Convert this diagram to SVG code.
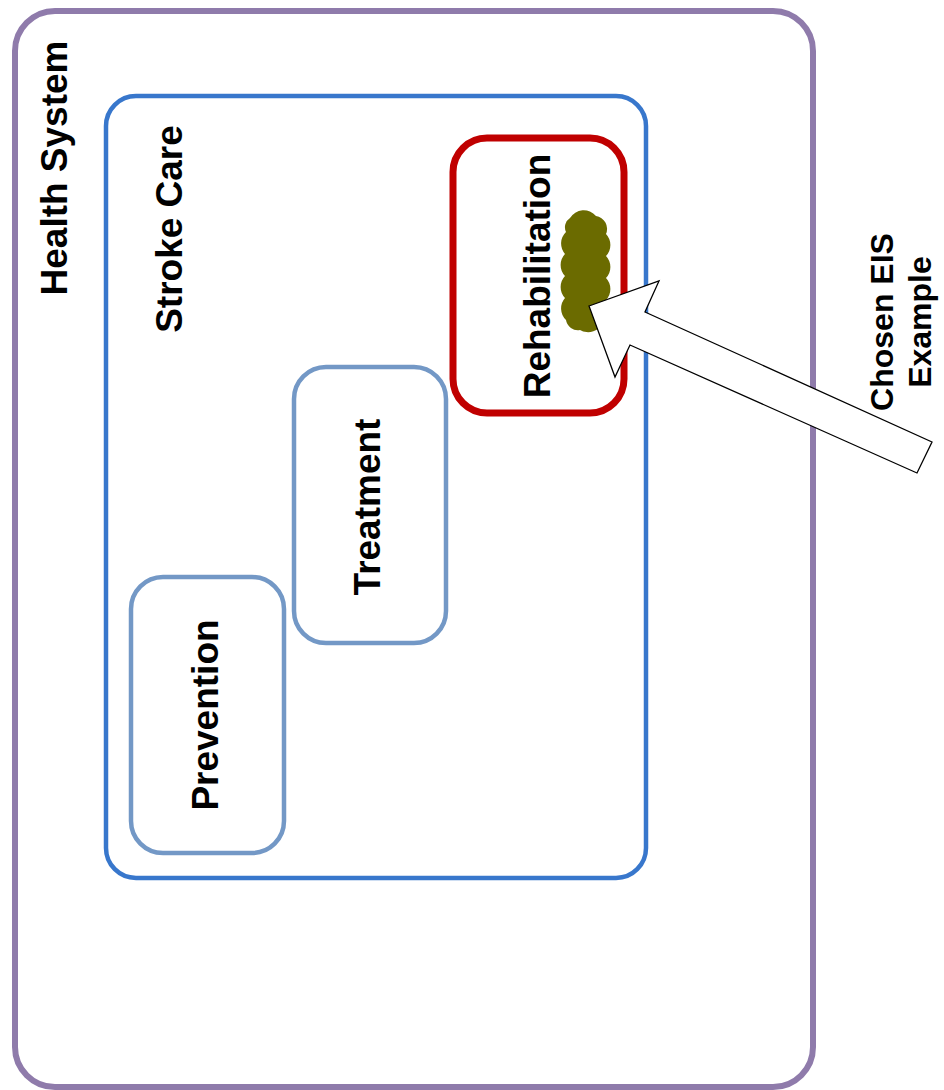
<svg xmlns="http://www.w3.org/2000/svg" width="944" height="1090" viewBox="0 0 944 1090">
  <style>
    .box { fill: #ffffff; }
    .label { font-family: "Liberation Sans", Arial, sans-serif; font-weight: bold; fill: #000000; text-anchor: middle; }
    .big { font-size: 37px; }
    .small { font-size: 32px; }
  </style>
  <rect width="944" height="1090" fill="#ffffff"/>

  <!-- outer container -->
  <g id="health-system">
    <rect class="box" x="15" y="11" width="798" height="1076" rx="40" ry="40" stroke="#8f7bab" stroke-width="6"/>
    <text class="label big" x="67" y="168" transform="rotate(-90 67 168)">Health System</text>
  </g>

  <!-- stroke care container -->
  <g id="stroke-care">
    <rect class="box" x="106" y="96" width="540" height="782" rx="30" ry="30" stroke="#3877cc" stroke-width="4.5"/>
    <text class="label big" x="182" y="229" transform="rotate(-90 182 229)">Stroke Care</text>
  </g>

  <g id="prevention">
    <rect class="box" x="131" y="577" width="153" height="276" rx="32" ry="32" stroke="#7398c6" stroke-width="4.5"/>
    <text class="label big" x="218" y="715" transform="rotate(-90 218 715)">Prevention</text>
  </g>

  <g id="treatment">
    <rect class="box" x="294" y="367" width="152" height="276" rx="32" ry="32" stroke="#7398c6" stroke-width="4.5"/>
    <text class="label big" x="380" y="507" transform="rotate(-90 380 507)">Treatment</text>
  </g>

  <g id="rehabilitation">
    <rect class="box" x="453" y="138" width="171" height="275" rx="34" ry="34" stroke="#c00000" stroke-width="7"/>
    <text class="label big" x="550" y="276" transform="rotate(-90 550 276)">Rehabilitation</text>
    <!-- scalloped marker inside the rehabilitation box -->
    <path id="eis-blob" fill="#6b6b00" d="M 570,218 A 16 16 0 0 1 596,216 A 13 13 0 0 1 606,234 A 16 16 0 0 1 606,256 A 16 16 0 0 1 606,278 A 16 16 0 0 1 606,300 A 16 16 0 0 1 603,322 A 16 16 0 0 1 580,330 A 12 12 0 0 1 566,320 A 16 16 0 0 1 565,298 A 16 16 0 0 1 565,276 A 16 16 0 0 1 565,254 A 16 16 0 0 1 566,232 A 11 11 0 0 1 570,218 Z"/>
  </g>

  <!-- block arrow pointing at the marker -->
  <g id="connectors">
    <polygon points="589,306 659,281 645,312 932,442 917,473 630,345 615,377" fill="#ffffff" stroke="#000000" stroke-width="1.3" stroke-linejoin="miter"/>
  </g>

  <g id="chosen-eis-label">
    <text class="label small" transform="rotate(-90 893 322)" x="893" y="322">Chosen EIS</text>
    <text class="label small" transform="rotate(-90 931 322)" x="931" y="322">Example</text>
  </g>
</svg>
